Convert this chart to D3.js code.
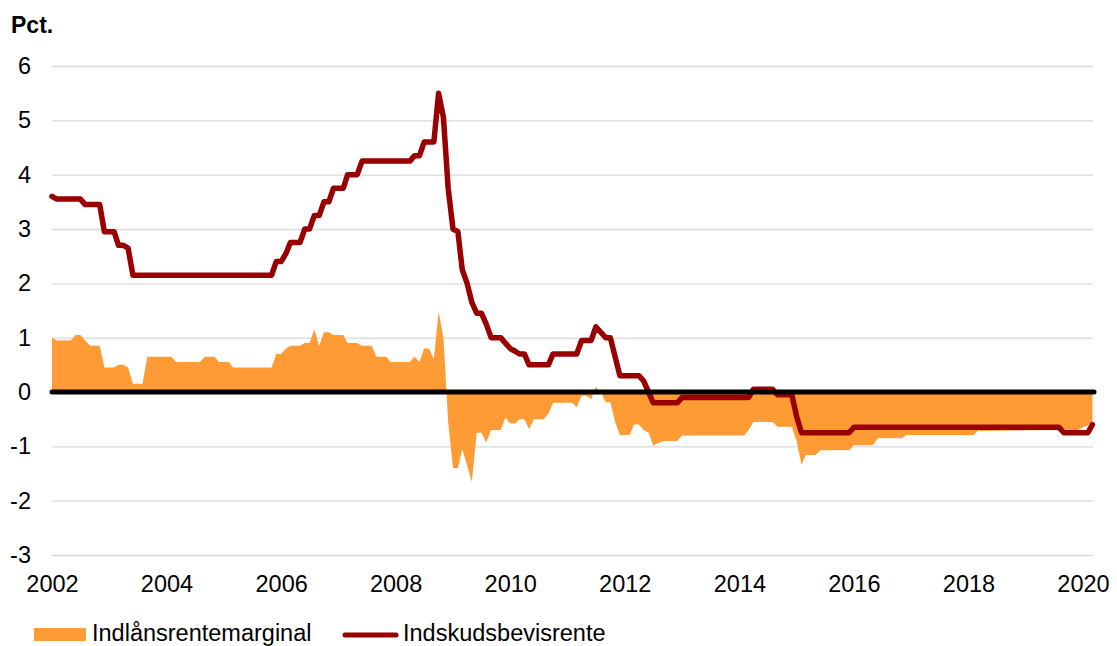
<!DOCTYPE html>
<html>
<head>
<meta charset="utf-8">
<script src="https://cdn.jsdelivr.net/npm/d3@7.9.0/dist/d3.min.js"></script>
<style>
  body { margin: 0; background: #fff; }
  svg { font-family: "Liberation Sans", Arial, sans-serif; }
</style>
</head>
<body>
<svg id="chart" width="1117" height="646"></svg>
<script>
// Indskudsbevisrente (pct.)
const rateMonths = ["2002-01","2002-02","2002-07","2002-08","2002-11","2002-12","2003-02","2003-03","2003-04","2003-05",
  "2003-06","2005-11","2005-12","2006-01","2006-02","2006-03","2006-05","2006-06","2006-07","2006-08",
  "2006-09","2006-10","2006-11","2006-12","2007-02","2007-03","2007-05","2007-06","2008-04","2008-05",
  "2008-06","2008-07","2008-09","2008-10","2008-11","2008-12","2009-01","2009-02","2009-03","2009-04",
  "2009-05","2009-06","2009-07","2009-08","2009-09","2009-11","2009-12","2010-01","2010-02","2010-03",
  "2010-04","2010-05","2010-09","2010-10","2011-03","2011-04","2011-06","2011-07","2011-08","2011-09",
  "2011-10","2011-12","2012-04","2012-05","2012-07","2012-12","2013-01","2014-03","2014-04","2014-08",
  "2014-09","2014-12","2015-01","2015-02","2015-12","2016-01","2019-08","2019-09","2020-02","2020-03"];
const rateValues = [3.60,3.55,3.55,3.45,3.45,2.95,2.95,2.70,2.70,2.65,
  2.15,2.15,2.40,2.40,2.55,2.75,2.75,3.00,3.00,3.25,
  3.25,3.50,3.50,3.75,3.75,4.00,4.00,4.25,4.25,4.35,
  4.35,4.60,4.60,5.50,5.05,3.75,3.00,2.95,2.25,2.00,
  1.65,1.45,1.45,1.25,1.00,1.00,0.90,0.80,0.75,0.70,
  0.70,0.50,0.50,0.70,0.70,0.95,0.95,1.20,1.10,1.00,
  1.00,0.30,0.30,0.20,-0.20,-0.20,-0.10,-0.10,0.05,0.05,
  -0.05,-0.05,-0.45,-0.75,-0.75,-0.65,-0.65,-0.75,-0.75,-0.60];

// Indlånsrentemarginal (pct.)
const marginMonths = ["2002-01","2002-02","2002-05","2002-06","2002-07","2002-09","2002-11","2002-12","2003-02","2003-03",
  "2003-04","2003-05","2003-06","2003-08","2003-09","2004-02","2004-03","2004-08","2004-09","2004-11",
  "2004-12","2005-02","2005-03","2005-11","2005-12","2006-01","2006-02","2006-03","2006-05","2006-06",
  "2006-07","2006-08","2006-09","2006-10","2006-11","2006-12","2007-02","2007-03","2007-05","2007-06",
  "2007-08","2007-09","2007-11","2007-12","2008-04","2008-05","2008-06","2008-07","2008-08","2008-09",
  "2008-10","2008-11","2008-12","2009-01","2009-02","2009-03","2009-05","2009-06","2009-07","2009-08",
  "2009-09","2009-11","2009-12","2010-01","2010-02","2010-03","2010-04","2010-05","2010-06","2010-08",
  "2010-09","2010-10","2011-02","2011-03","2011-04","2011-05","2011-06","2011-07","2011-08","2011-09",
  "2011-10","2011-11","2011-12","2012-02","2012-03","2012-04","2012-05","2012-06","2012-07","2012-08",
  "2012-09","2012-12","2013-01","2014-02","2014-03","2014-04","2014-08","2014-09","2014-12","2015-01",
  "2015-02","2015-03","2015-05","2015-06","2015-12","2016-01","2016-05","2016-06","2016-11","2016-12",
  "2018-02","2018-03","2019-08","2019-12","2020-01","2020-02","2020-03"];
const marginValues = [1.00,0.95,0.95,1.05,1.05,0.85,0.85,0.45,0.45,0.50,
  0.50,0.45,0.15,0.15,0.65,0.65,0.55,0.55,0.65,0.65,
  0.55,0.55,0.45,0.45,0.70,0.70,0.80,0.85,0.85,0.90,
  0.90,1.15,0.85,1.10,1.10,1.05,1.05,0.90,0.90,0.85,
  0.85,0.65,0.65,0.55,0.55,0.65,0.55,0.80,0.80,0.60,
  1.48,1.00,-0.55,-1.40,-1.40,-1.05,-1.65,-0.75,-0.75,-0.93,
  -0.70,-0.70,-0.47,-0.58,-0.58,-0.50,-0.50,-0.68,-0.50,-0.50,
  -0.40,-0.20,-0.20,-0.28,-0.07,-0.07,-0.13,0.09,0.00,-0.19,
  -0.19,-0.55,-0.79,-0.79,-0.60,-0.60,-0.70,-0.75,-0.99,-0.94,
  -0.90,-0.90,-0.80,-0.80,-0.70,-0.55,-0.55,-0.64,-0.64,-0.90,
  -1.34,-1.16,-1.16,-1.07,-1.07,-0.98,-0.98,-0.85,-0.85,-0.79,
  -0.79,-0.72,-0.70,-0.70,-0.65,-0.62,-0.55];

const yTicks = [-3,-2,-1,0,1,2,3,4,5,6];
const xTickYears = [2002,2004,2006,2008,2010,2012,2014,2016,2018,2020];
const seriesNames = ["Indlånsrentemarginal", "Indskudsbevisrente"];

const parse = d3.timeParse("%Y-%m");
const rate = rateMonths.map((m, i) => ({ date: parse(m), value: rateValues[i] }));
const margin = marginMonths.map((m, i) => ({ date: parse(m), value: marginValues[i] }));

const svg = d3.select("#chart");
const left = 52, right = 1093;

const x = d3.scaleTime()
  .domain([new Date(2002, 0, 1), new Date(2020, 0, 1)])
  .range([52, 1083]);
const y = d3.scaleLinear().domain([-3, 6]).range([555, 66]);

const fontSize = "23.5px";

// gridlines + y labels (plain hyphen for minus, like the original)
const yAxis = svg.append("g")
  .attr("transform", `translate(${left},0)`)
  .call(d3.axisLeft(y).tickValues(yTicks).tickSize(-(right - left)).tickPadding(21).tickFormat(d => String(d)));
yAxis.select(".domain").remove();
yAxis.selectAll("line").attr("stroke", "#d9d9d9").attr("stroke-width", 1.3);
yAxis.selectAll("text").attr("font-size", fontSize).attr("fill", "#000").attr("font-family", "Liberation Sans, Arial, sans-serif");

// x labels
const xAxis = svg.append("g")
  .attr("transform", `translate(0,${y(-3)})`)
  .call(d3.axisBottom(x).tickValues(xTickYears.map(yr => new Date(yr, 0, 1))).tickSize(0).tickPadding(20).tickFormat(d3.timeFormat("%Y")));
xAxis.select(".domain").remove();
xAxis.selectAll("text").attr("font-size", fontSize).attr("fill", "#000").attr("font-family", "Liberation Sans, Arial, sans-serif");

// area
const area = d3.area()
  .x(d => x(d.date))
  .y0(y(0))
  .y1(d => y(d.value));
svg.append("path")
  .datum(margin)
  .attr("d", area)
  .attr("fill", "#ff9b35");

// deposit rate line
const line = d3.line()
  .x(d => x(d.date))
  .y(d => y(d.value));
svg.append("path")
  .datum(rate)
  .attr("d", line)
  .attr("fill", "none")
  .attr("stroke", "#990000")
  .attr("stroke-width", 5.5)
  .attr("stroke-linejoin", "round")
  .attr("stroke-linecap", "round");

// zero line
svg.append("line")
  .attr("x1", left).attr("x2", right + 1)
  .attr("y1", y(0)).attr("y2", y(0))
  .attr("stroke", "#000")
  .attr("stroke-width", 5)
  .attr("stroke-linecap", "round");

// unit label
svg.append("text")
  .attr("x", 11).attr("y", 33)
  .attr("font-size", "23px")
  .attr("font-weight", "bold")
  .text("Pct.");

// legend
const legend = svg.append("g");
legend.append("rect")
  .attr("x", 34).attr("y", 628).attr("width", 52).attr("height", 13)
  .attr("fill", "#ff9b35");
legend.append("text")
  .attr("x", 92).attr("y", 641)
  .attr("font-size", fontSize)
  .text(seriesNames[0]);
legend.append("line")
  .attr("x1", 345).attr("x2", 396).attr("y1", 635).attr("y2", 635)
  .attr("stroke", "#990000").attr("stroke-width", 5).attr("stroke-linecap", "round");
legend.append("text")
  .attr("x", 403).attr("y", 641)
  .attr("font-size", fontSize)
  .text(seriesNames[1]);
</script>
</body>
</html>
